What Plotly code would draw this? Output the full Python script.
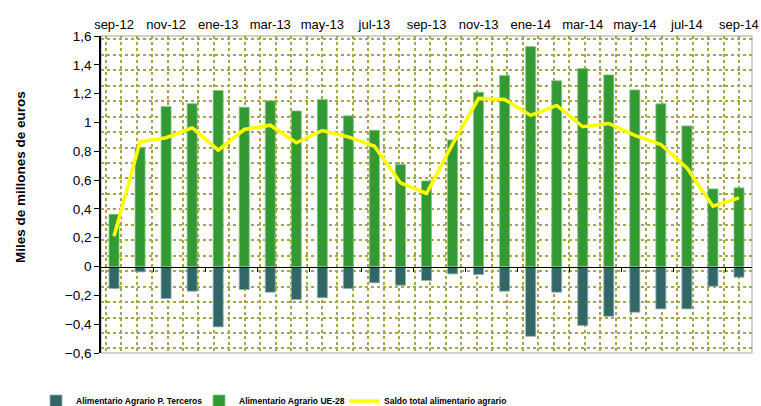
import plotly.graph_objects as go

months = ["sep-12", "oct-12", "nov-12", "dic-12", "ene-13", "feb-13", "mar-13",
          "abr-13", "may-13", "jun-13", "jul-13", "ago-13", "sep-13", "oct-13",
          "nov-13", "dic-13", "ene-14", "feb-14", "mar-14", "abr-14", "may-14",
          "jun-14", "jul-14", "ago-14", "sep-14"]

terceros = [-0.153, -0.037, -0.222, -0.171, -0.419, -0.160, -0.178, -0.229,
            -0.217, -0.153, -0.113, -0.130, -0.097, -0.051, -0.056, -0.171,
            -0.484, -0.178, -0.410, -0.345, -0.317, -0.294, -0.294, -0.137,
            -0.074]

ue28 = [0.363, 0.828, 1.110, 1.130, 1.222, 1.106, 1.150, 1.080, 1.160, 1.046,
        0.946, 0.708, 0.594, 0.879, 1.210, 1.326, 1.527, 1.289, 1.374, 1.330,
        1.226, 1.129, 0.976, 0.539, 0.546]

saldo = [0.210, 0.866, 0.894, 0.963, 0.808, 0.951, 0.981, 0.859, 0.944, 0.900,
         0.835, 0.581, 0.507, 0.850, 1.167, 1.160, 1.049, 1.118, 0.970, 0.993,
         0.910, 0.847, 0.685, 0.419, 0.477]

y_ticks = [-0.6, -0.4, -0.2, 0, 0.2, 0.4, 0.6, 0.8, 1.0, 1.2, 1.4, 1.6]

W, H = 761, 406
ML, MR, MT, MB = 101, 9, 36, 53
PW, PH = W - ML - MR, H - MT - MB
YMIN, YMAX = -0.6, 1.6

n = len(months)
label_vals = months[::2]
boundary_ticks = [i + 1.5 for i in range(0, n - 2, 2)]

font_main = "Liberation Sans, Arial, sans-serif"
grid_col = "#a6a650"

fig = go.Figure()

fig.add_trace(go.Bar(
    x=months, y=terceros, name="Alimentario Agrario P. Terceros",
    marker=dict(color="#336666", line=dict(color="#8fb3b3", width=0.8)),
    width=0.385, legendwidth=118,
))
fig.add_trace(go.Bar(
    x=months, y=ue28, name="Alimentario Agrario UE-28",
    marker=dict(color="#339933", line=dict(color="#8cc48c", width=0.8)),
    width=0.385, legendwidth=100,
))
fig.add_trace(go.Scatter(
    x=months, y=saldo, name="Saldo total alimentario agrario",
    mode="lines", line=dict(color="#ffff00", width=3.5),
))

# helper traces to activate the pattern-grid axes and the zero-line axis
fig.add_trace(go.Scatter(x=[None], y=[None], xaxis="x2", yaxis="y2",
                         showlegend=False, hoverinfo="skip"))
fig.add_trace(go.Scatter(x=[None], y=[None], xaxis="x3", yaxis="y",
                         showlegend=False, hoverinfo="skip"))

fig.update_layout(
    width=W, height=H,
    margin=dict(l=ML, r=MR, t=MT, b=MB, autoexpand=False),
    paper_bgcolor="white", plot_bgcolor="white",
    separators=",.",
    barmode="relative",
    font=dict(family=font_main, size=13, color="black"),
    showlegend=True,
    legend=dict(
        orientation="h", x=(36 - ML) / PW, xanchor="left",
        y=-(401 - (MT + PH)) / PH, yanchor="middle",
        font=dict(family=font_main, size=8.5, color="black", weight="bold"),
        itemwidth=30, traceorder="normal",
        bgcolor="rgba(0,0,0,0)",
    ),
    xaxis=dict(
        type="category", side="top", range=[-0.5, n - 0.5],
        tickmode="array", tickvals=label_vals, ticktext=label_vals,
        ticks="", showgrid=False, showline=False, zeroline=False,
        tickfont=dict(size=13, family=font_main), ticklabelstandoff=3,
    ),
    yaxis=dict(
        range=[YMIN, YMAX], tickmode="array", tickvals=y_ticks,
        tickformat=".1~f",
        ticks="outside", ticklen=5, tickcolor="black",
        showline=True, linecolor="black", linewidth=1.5,
        showgrid=False, zeroline=False,
        tickfont=dict(size=13.5, family=font_main),
    ),
    xaxis2=dict(
        overlaying="x", anchor="y2", range=[0, PW],
        tick0=4.7, dtick=15.45, showgrid=True, gridcolor=grid_col,
        griddash="dot", gridwidth=1.6, showticklabels=False, ticks="",
        showline=False, zeroline=False,
    ),
    yaxis2=dict(
        overlaying="y", anchor="x2", range=[0, PH],
        tick0=4.6, dtick=15.45, showgrid=True, gridcolor=grid_col,
        griddash="dot", gridwidth=1.6, showticklabels=False, ticks="",
        showline=False, zeroline=False,
    ),
    xaxis3=dict(
        overlaying="x", anchor="free", position=(0 - YMIN) / (YMAX - YMIN),
        range=[-0.5, n - 0.5], tickmode="array", tickvals=boundary_ticks,
        ticks="outside", ticklen=4, tickcolor="black",
        showticklabels=False, showline=True, linecolor="black", linewidth=1,
        showgrid=False, zeroline=False,
    ),
    shapes=[dict(type="rect", xref="paper", yref="paper", x0=0, x1=1, y0=0, y1=1,
                 line=dict(color="#a0a0a0", width=1), layer="below")],
    annotations=[dict(
        text="<b>Miles de millones de euros</b>", textangle=-90,
        xref="paper", yref="paper", x=(20 - ML) / PW, y=(MT + PH - 177) / PH,
        showarrow=False, font=dict(size=13.5, family=font_main),
        xanchor="center", yanchor="middle",
    )],
)

fig.write_html(
    "out.html",
    config={"displayModeBar": False},
    post_script="document.body.style.margin='0';document.body.style.overflow='hidden';",
)
